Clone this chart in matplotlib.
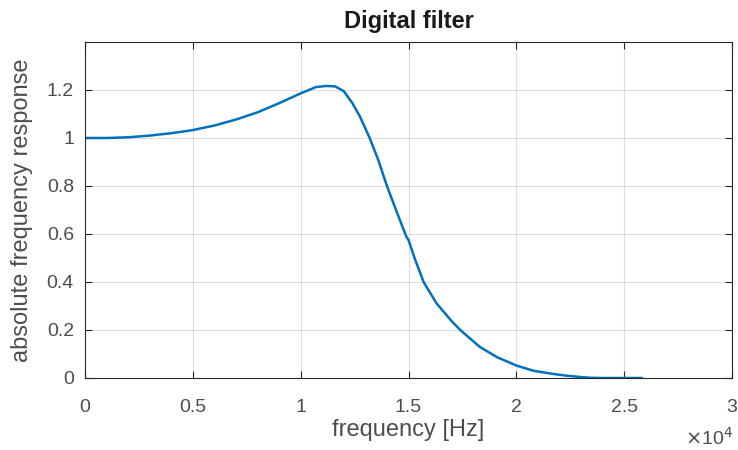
import matplotlib
matplotlib.use("Agg")
import matplotlib.pyplot as plt

freq_hz = [0, 1000, 2000, 3000, 4000, 5000, 6000, 7000, 8000, 9000, 10000,
           10700, 11200, 11600, 12000, 12400, 12750, 13200, 13600, 14000,
           14450, 14900, 15000, 15300, 15700, 16300, 17000, 17400, 18300,
           19100, 20000, 20800, 21700, 22300, 23000, 23400, 24000, 25000, 25800]
response = [1.000, 1.000, 1.003, 1.010, 1.020, 1.033, 1.052, 1.077, 1.107, 1.145, 1.186,
            1.212, 1.217, 1.215, 1.195, 1.145, 1.089, 1.000, 0.908, 0.800,
            0.693, 0.589, 0.575, 0.495, 0.400, 0.311, 0.237, 0.200, 0.130,
            0.087, 0.052, 0.030, 0.017, 0.010, 0.004, 0.001, 0.0, 0.0, 0.0]
xticks = [0, 5000, 10000, 15000, 20000, 25000, 30000]
xticklabels = ["0", "0.5", "1", "1.5", "2", "2.5", "3"]
yticks = [0, 0.2, 0.4, 0.6, 0.8, 1.0, 1.2]
yticklabels = ["0", "0.2", "0.4", "0.6", "0.8", "1", "1.2"]

plt.rcParams['font.family'] = ['Liberation Sans', 'DejaVu Sans']

fig = plt.figure(figsize=(7.38, 4.5), dpi=100)
ax = fig.add_axes([85/738, 1-378/450, (732-85)/738, (378-42)/450])

ax.plot(freq_hz, response, color='#0072BD', linewidth=1.8, solid_joinstyle='round')

ax.set_xlim(0, 30000)
ax.set_ylim(0, 1.4)
ax.set_xticks(xticks)
ax.set_xticklabels(xticklabels)
ax.set_yticks(yticks)
ax.set_yticklabels(yticklabels)

ax.grid(True, color='#262626', alpha=0.15, linewidth=0.8)
ax.set_axisbelow(True)
for s in ax.spines.values():
    s.set_color('#262626')
    s.set_linewidth(0.8)
ax.tick_params(direction='in', length=5, width=0.8, colors='#262626',
               labelcolor='#4d4d4d', labelsize=14, top=True, right=True)
ax.tick_params(axis='y', pad=8)
ax.tick_params(axis='x', pad=15)

ax.set_xlabel('frequency [Hz]', fontsize=17, color='#4d4d4d')
ax.xaxis.set_label_coords(0.5, -0.122)
ax.set_ylabel('absolute frequency response', fontsize=17, color='#4d4d4d')
ax.yaxis.set_label_coords(-0.080, 0.5)
ax.set_title('Digital filter', fontsize=17, fontweight='bold', color='#1a1a1a', pad=10)

fig.text(733/738, 1-445/450, r'$\times$10$^{4}$', ha='right', va='baseline',
         fontsize=14, color='#4d4d4d')

fig.savefig('out.png', dpi=100)
